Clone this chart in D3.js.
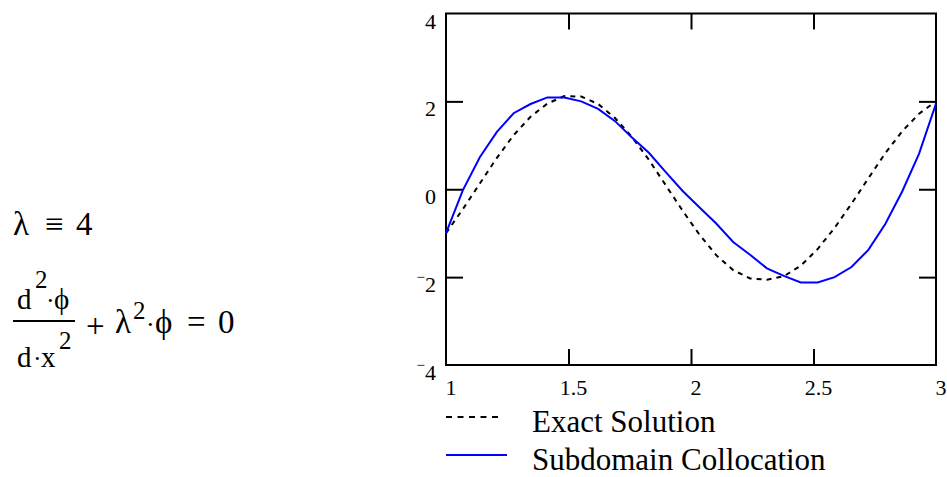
<!DOCTYPE html>
<html>
<head>
<meta charset="utf-8">
<script src="https://cdn.jsdelivr.net/npm/d3@7"></script>
<style>
  body { margin: 0; background: #fff; }
  svg { display: block; }
  text { font-family: "Liberation Serif", "Times New Roman", serif; fill: #000; }
</style>
</head>
<body>
<svg id="chart" width="947" height="477"></svg>
<script>
// sample points (30 points from 1 to 3)
const xValues = [1.000, 1.069, 1.138, 1.207, 1.276, 1.345, 1.414, 1.483, 1.552, 1.621,
                 1.690, 1.759, 1.828, 1.897, 1.966, 2.034, 2.103, 2.172, 2.241, 2.310,
                 2.379, 2.448, 2.517, 2.586, 2.655, 2.724, 2.793, 2.862, 2.931, 3.000];
const exactSolution = [-1.00, -0.45, 0.13, 0.71, 1.23, 1.65, 1.95, 2.12, 2.11, 1.94,
                       1.62, 1.19, 0.67, 0.09, -0.49, -1.03, -1.50, -1.84, -2.03, -2.06,
                       -1.98, -1.74, -1.36, -0.88, -0.33, 0.25, 0.82, 1.32, 1.72, 2.00];
const subdomainCollocation = [-1.00, -0.02, 0.73, 1.30, 1.73, 1.94, 2.09, 2.09, 2.00, 1.83,
                              1.55, 1.18, 0.83, 0.39, -0.04, -0.41, -0.78, -1.20, -1.49, -1.80,
                              -1.97, -2.12, -2.12, -2.00, -1.77, -1.38, -0.79, -0.05, 0.81, 1.95];
const xTicks = [1, 1.5, 2, 2.5, 3];
const yTicks = [-4, -2, 0, 2, 4];
const legendLabels = ["Exact Solution", "Subdomain Collocation"];

const svg = d3.select("#chart");
const plotL = 446, plotR = 936, plotT = 13.5, plotB = 365;

const x = d3.scaleLinear().domain([1, 3]).range([plotL, plotR]);
const y = d3.scaleLinear().domain([-4, 4]).range([plotB, plotT]);

// inward ticks on all four sides
function tickAxis(axis, tx, ty) {
  const g = svg.append("g")
    .attr("transform", `translate(${tx},${ty})`)
    .call(axis.tickSizeOuter(0).tickFormat(""));
  g.select(".domain").remove();
  g.selectAll(".tick line").attr("stroke", "#000").attr("stroke-width", 2);
}
tickAxis(d3.axisLeft(y).tickValues(yTicks.slice(1, -1)).tickSize(-17), plotL, 0);
tickAxis(d3.axisRight(y).tickValues(yTicks.slice(1, -1)).tickSize(-17), plotR, 0);
tickAxis(d3.axisBottom(x).tickValues(xTicks.slice(1, -1)).tickSize(-16), 0, plotB);
tickAxis(d3.axisTop(x).tickValues(xTicks.slice(1, -1)).tickSize(-16), 0, plotT);

svg.append("rect")
  .attr("x", plotL).attr("y", plotT)
  .attr("width", plotR - plotL).attr("height", plotB - plotT)
  .attr("fill", "none").attr("stroke", "#000").attr("stroke-width", 2);

// y labels, Mathcad style raised minus
const yLab = svg.selectAll(".ylab").data(yTicks).enter().append("text")
  .attr("class", "ylab")
  .attr("x", plotL - 10)
  .attr("y", d => y(d) + 15)
  .attr("text-anchor", "end")
  .style("font-size", "22px");
yLab.filter(d => d < 0).append("tspan")
  .attr("dy", -10).style("font-size", "15px").text("\u2212");
yLab.append("tspan")
  .attr("dy", d => d < 0 ? 10 : 0)
  .text(d => Math.abs(d));

svg.selectAll(".xlab").data(xTicks).enter().append("text")
  .attr("class", "xlab")
  .attr("x", d => x(d) + 5)
  .attr("y", 395)
  .attr("text-anchor", "middle")
  .style("font-size", "22px")
  .text(d => d);

const line = d3.line()
  .x((d, i) => x(xValues[i]))
  .y(d => y(d));

svg.append("path")
  .attr("d", line(exactSolution))
  .attr("fill", "none").attr("stroke", "#000")
  .attr("stroke-width", 2).attr("stroke-dasharray", "5,5");

svg.append("path")
  .attr("d", line(subdomainCollocation))
  .attr("fill", "none").attr("stroke", "#0000ff")
  .attr("stroke-width", 2);

// legend
svg.append("line")
  .attr("x1", 446).attr("x2", 500).attr("y1", 417).attr("y2", 417)
  .attr("stroke", "#000").attr("stroke-width", 2).attr("stroke-dasharray", "6,5.5");
svg.append("line")
  .attr("x1", 446).attr("x2", 507).attr("y1", 455).attr("y2", 455)
  .attr("stroke", "#0000ff").attr("stroke-width", 2);
svg.selectAll(".leg").data(legendLabels).enter().append("text")
  .attr("class", "leg")
  .attr("x", 532)
  .attr("y", (d, i) => 432 + i * 38)
  .style("font-size", "31px")
  .text(d => d);

// equations on the left
function put(str, px, py, size) {
  svg.append("text").attr("x", px).attr("y", py)
    .style("font-size", size + "px").text(str);
}
const phi = "\u03d5";
put("\u03bb", 13, 235, 33);
put("\u2261", 45, 235, 33);
put("4", 76, 235, 33);

put("d", 17, 309, 29);
put("2", 35, 288, 25);
put("\u00b7", 46, 309, 26);
put(phi, 54, 309, 29);
svg.append("line").attr("x1", 13).attr("x2", 75).attr("y1", 321).attr("y2", 321)
  .attr("stroke", "#000").attr("stroke-width", 2);
put("d", 17, 367, 29);
put("\u00b7", 33, 367, 26);
put("x", 41, 367, 29);
put("2", 59, 349, 25);

put("+", 86, 337, 33);
put("\u03bb", 115, 333, 33);
put("2", 133, 319, 25);
put("\u00b7", 146, 333, 26);
put(phi, 155, 333, 33);
put("=", 187, 333, 33);
put("0", 218, 333, 33);
</script>
</body>
</html>
